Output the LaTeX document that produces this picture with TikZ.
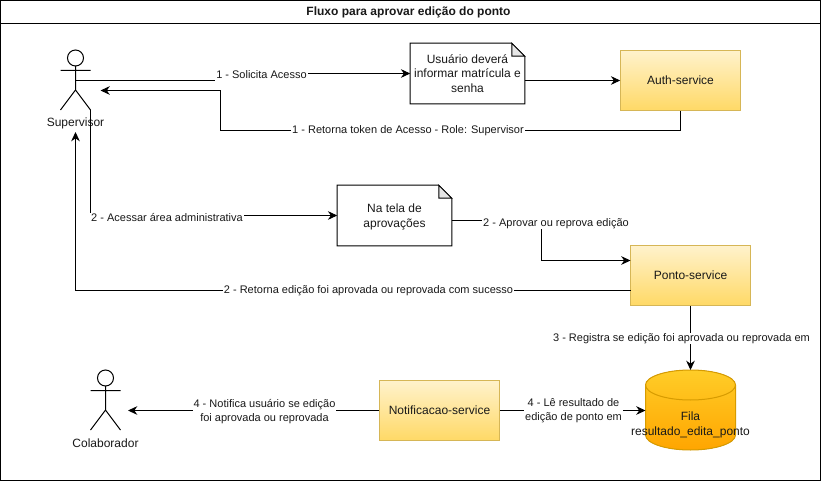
\documentclass[tikz,border=0pt]{standalone}
\usepackage{fontspec}
\setmainfont{Liberation Sans}
\usetikzlibrary{arrows.meta}
\definecolor{gold1}{HTML}{FFF2CC}
\definecolor{gold2}{HTML}{FFD966}
\definecolor{goldb}{HTML}{D6B656}
\definecolor{cyl1}{HTML}{FFCD28}
\definecolor{cyl2}{HTML}{FFA500}
\definecolor{cylb}{HTML}{D79B00}
\definecolor{foldc}{HTML}{E6E6E6}
\tikzset{
  line width=0.75pt,
  conn/.style={draw=black,line width=0.75pt,-{Stealth[length=7pt,width=6.5pt]}},
  plain/.style={draw=black,line width=0.75pt},
  service/.style={draw=goldb,top color=gold1,bottom color=gold2,minimum width=90pt,minimum height=45pt,inner sep=0pt,font=\fontsize{9}{10.8}\selectfont,text=black!90},
  notebox/.style={minimum width=85.5pt,minimum height=45pt,inner sep=0pt,align=center,font=\fontsize{9}{11}\selectfont,text=black!90},
  lbl/.style={fill=white,inner sep=0.6pt,align=center,font=\fontsize{8.25}{10.4}\selectfont,text=black!90},
  actorlbl/.style={inner sep=0pt,font=\fontsize{9}{10.8}\selectfont,text=black!90},
}
\newcommand{\notefold}[1]{%
  \draw[plain,fill=white] (#1.north west) -- ([xshift=-9.75pt]#1.north east) -- ([yshift=-9.75pt]#1.north east) -- (#1.south east) -- (#1.south west) -- cycle;
  \draw[plain,fill=foldc] ([xshift=-9.75pt]#1.north east) -- ([xshift=-9.75pt,yshift=-9.75pt]#1.north east) -- ([yshift=-9.75pt]#1.north east) -- cycle;
}
\newcommand{\actorfig}[3]{% x, y of head centre, name
  \draw[plain] (#1,#2) circle[radius=6pt];
  \draw[plain] (#1,#2+8) -- (#1,#2+32) (#1-15,#2+12.5) -- (#1+15,#2+12.5)
     (#1-15,#2+52) -- (#1,#2+32) -- (#1+15,#2+52);
  \coordinate (#3) at (#1,#2);
}
\begin{document}
\begin{tikzpicture}[x=0.75pt,y=-0.75pt]
\useasboundingbox (0,0) rectangle (821,481);
\fill[white] (0,0) rectangle (821,481);
% frame
\draw[plain] (0.5,0.5) rectangle (820.5,480);
\draw[plain] (0.5,23.5) -- (820.5,23.5);
\node[inner sep=0pt,font=\bfseries\fontsize{9}{10}\selectfont,text=black!90] (title) at (408.5,12) {Fluxo para aprovar edição do ponto};

% actors
\actorfig{75.5}{58}{sup}
\actorfig{105.5}{378}{col}
\coordinate (supbody) at (75.5,80.5);
\coordinate (suplegr) at (90.5,110);
\coordinate (supin) at (100.5,90.5);
\coordinate (supbelow) at (75.5,132);
\coordinate (colin) at (128,410.5);
\node[actorlbl] (suplabel) at (75.5,123.5) {Supervisor};
\node[actorlbl] (collabel) at (105.5,443.5) {Colaborador};

% notes
\node[notebox] (n1) at (467.5,73.5) {};
\node[notebox] (n2) at (394.5,215.5) {};
\notefold{n1}
\notefold{n2}
\node[notebox] (n1t) at (n1) {Usuário deverá\\informar matrícula e\\senha};
\node[notebox] (n2t) at ([yshift=-1pt]n2) {Na tela de\\aprovações};

% services
\node[service] (auth) at (680.5,80.5) {Auth-service};
\node[service] (ponto) at (690.5,275.5) {Ponto-service};
\node[service] (notif) at (439.5,410.5) {Notificacao-service};

% cylinder
\coordinate (cyltop) at (690.5,370);
\coordinate (cylleft) at (645.5,410.5);
\fill[top color=cyl1,bottom color=cyl2] (645.5,385) .. controls (645.5,376.7) and (665.6,370) .. (690.5,370) .. controls (715.4,370) and (735.5,376.7) .. (735.5,385) -- (735.5,435) .. controls (735.5,443.3) and (715.4,450) .. (690.5,450) .. controls (665.6,450) and (645.5,443.3) .. (645.5,435) -- cycle;
\draw[cylb,line width=0.75pt] (645.5,385) .. controls (645.5,376.7) and (665.6,370) .. (690.5,370) .. controls (715.4,370) and (735.5,376.7) .. (735.5,385) -- (735.5,435) .. controls (735.5,443.3) and (715.4,450) .. (690.5,450) .. controls (665.6,450) and (645.5,443.3) .. (645.5,435) -- cycle;
\draw[cylb,line width=0.75pt] (645.5,385) .. controls (645.5,393.3) and (665.6,400) .. (690.5,400) .. controls (715.4,400) and (735.5,393.3) .. (735.5,385);
\node[inner sep=0pt,align=center,font=\fontsize{9}{11.1}\selectfont,text=black!90] (fila) at (690.5,424.5) {Fila\\resultado\_edita\_ponto};

% connectors
\coordinate (sol1) at (260.5,80.5);
\coordinate (sol2) at (260.5,73.5);
\draw[conn] (supbody) -- (sol1) -- (sol2) -- (n1.west);
\coordinate (n1out) at (524.5,80.5);
\draw[conn] (n1out) -- (auth.west);
\coordinate (ret1) at (220.5,130.5);
\draw[conn] (auth.south) |- (ret1) |- (supin);
\draw[conn] (suplegr) |- (n2.west);
\coordinate (apr1) at (541,220.5);
\coordinate (apr2) at (541,260.5);
\coordinate (n2out) at (451.5,220.5);
\coordinate (pin) at (630.5,260.5);
\draw[conn] (n2out) -- (apr1) -- (apr2) -- (pin);
\coordinate (pout) at (630.5,290.5);
\draw[conn] (pout) -| (supbelow);
\draw[conn] (ponto.south) -- (cyltop);
\draw[conn] (notif.east) -- (cylleft);
\draw[conn] (notif.west) -- (colin);

% connector labels
\node[lbl,minimum height=11pt] (l1) at (261.5,74.5) {1 - Solicita Acesso};
\node[lbl] (l2) at (408,130.5) {1 - Retorna token de Acesso - Role: Supervisor};
\node[lbl] (l3) at (167,217.5) {2 - Acessar área administrativa};
\node[lbl] (l4) at (556,223.5) {2 - Aprovar ou reprova edição};
\node[lbl] (l5) at (368.5,290.5) {2 - Retorna edição foi aprovada ou reprovada com sucesso};
\node[lbl] (l6) at (681.5,338.5) {3 - Registra se edição foi aprovada ou reprovada em};
\node[lbl] (l7) at (573.5,410.5) {4 - Lê resultado de\\edição de ponto em};
\node[lbl] (l8) at (264.5,411.5) {4 - Notifica usuário se edição\\foi aprovada ou reprovada};
\end{tikzpicture}
\end{document}
